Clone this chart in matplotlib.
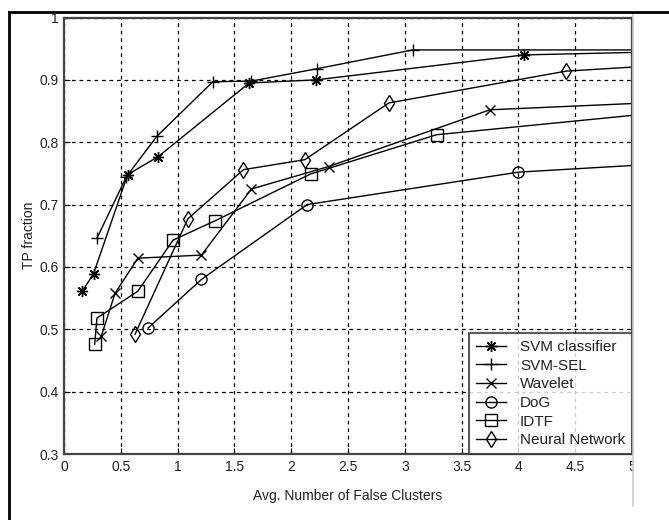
import matplotlib.pyplot as plt
from matplotlib.patches import Rectangle
from matplotlib.lines import Line2D

plt.rcParams['font.family'] = ['Liberation Sans', 'DejaVu Sans']

# data (last point of each curve lies past the x limit)
svm_x = [0.16, 0.26, 0.56, 0.83, 1.63, 2.22, 4.05, 5.5]
svm_y = [0.561, 0.589, 0.748, 0.777, 0.895, 0.900, 0.940, 0.946]

sel_x = [0.29, 0.55, 0.82, 1.31, 1.65, 2.23, 3.07, 5.5]
sel_y = [0.646, 0.745, 0.810, 0.897, 0.898, 0.918, 0.948, 0.948]

wav_x = [0.33, 0.45, 0.65, 1.21, 1.65, 2.33, 3.75, 5.5]
wav_y = [0.490, 0.558, 0.614, 0.619, 0.725, 0.761, 0.852, 0.866]

dog_x = [0.74, 1.21, 2.14, 4.00, 5.5]
dog_y = [0.502, 0.580, 0.700, 0.752, 0.768]

idtf_x = [0.27, 0.29, 0.65, 0.96, 1.33, 2.17, 3.28, 5.5]
idtf_y = [0.476, 0.518, 0.561, 0.643, 0.674, 0.749, 0.812, 0.852]

nn_x = [0.625, 1.09, 1.58, 2.12, 2.86, 4.42, 5.5]
nn_y = [0.492, 0.677, 0.756, 0.772, 0.863, 0.914, 0.926]

labels = ['SVM classifier', 'SVM-SEL', 'Wavelet', 'DoG', 'IDTF', 'Neural Network']
series = [(svm_x, svm_y), (sel_x, sel_y), (wav_x, wav_y),
          (dog_x, dog_y), (idtf_x, idtf_y), (nn_x, nn_y)]
markers = [(8, 2, 0), '+', 'x', 'o', 's', 'd']
sizes = [8, 9, 7, 8, 8, 8]

fig = plt.figure(figsize=(6.69, 5.2), dpi=100)
ax = fig.add_axes([64 / 669, 1 - 454 / 520, 568 / 669, 436.5 / 520])

for (x, y), m, ms, lab in zip(series, markers, sizes, labels):
    ax.plot(x, y, color='black', lw=1.0, marker=m, ms=ms, mfc='none',
            mew=1.0, label=lab)

ax.set_xlim(0, 5)
ax.set_ylim(0.3, 1)
ax.set_xticks([0, 0.5, 1, 1.5, 2, 2.5, 3, 3.5, 4, 4.5, 5])
ax.set_xticklabels(['0', '0.5', '1', '1.5', '2', '2.5', '3', '3.5', '4', '4.5', '5'])
ax.set_yticks([0.3, 0.4, 0.5, 0.6, 0.7, 0.8, 0.9, 1.0])
ax.set_yticklabels(['0.3', '0.4', '0.5', '0.6', '0.7', '0.8', '0.9', '1'])
ax.grid(True, color='black', linestyle=(0, (3, 3)), lw=0.9)
ax.tick_params(direction='in', length=4, labelsize=10, pad=4, labelcolor='#222222')
for s in ax.spines.values():
    s.set_color('#444444')
    s.set_linewidth(1.6)

ax.set_xlabel('Avg. Number of False Clusters', fontsize=10, labelpad=11, color='#222222')
ax.set_ylabel('TP fraction', fontsize=10, labelpad=2, color='#222222')

leg = ax.legend(loc='lower right', frameon=True, fancybox=False,
                prop={'size': 11}, borderaxespad=0, handlelength=2.0,
                handletextpad=0.9, labelspacing=0.3, borderpad=0.45)
leg.get_frame().set_edgecolor('#333333')
leg.get_frame().set_linewidth(1.5)
for t in leg.get_texts():
    t.set_color('#222222')

# page framing: clip the right side, then the scanned page border
fig.patches.append(Rectangle((634 / 669, 0), 35 / 669, 506 / 520,
                             transform=fig.transFigure, color='white', zorder=10))
fig.lines.append(Line2D([633 / 669, 633 / 669], [14 / 520, 1 - 13 / 520],
                        transform=fig.transFigure, color='#cccccc', lw=1.2, zorder=11))
fig.lines.append(Line2D([9 / 669, 1], [1 - 12 / 520, 1 - 12 / 520],
                        transform=fig.transFigure, color='black', lw=2, zorder=11))
fig.lines.append(Line2D([9 / 669, 9 / 669], [0, 1 - 12 / 520],
                        transform=fig.transFigure, color='black', lw=2, zorder=11))

fig.savefig('out.png', dpi=100)
